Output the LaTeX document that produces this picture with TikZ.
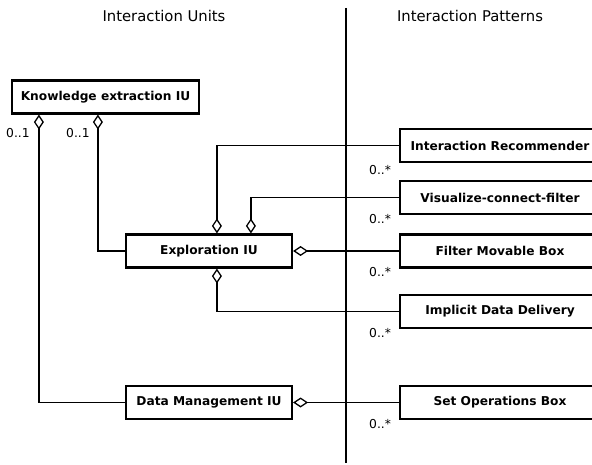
\documentclass[tikz,border=0pt]{standalone}
\usepackage{fontspec}
\setmainfont{DejaVu Sans}
\usetikzlibrary{arrows.meta,calc}
\tikzset{
  unitbox/.style={draw, line width=2.2pt, fill=white, minimum height=33pt,
    inner sep=0pt, font=\bfseries\fontsize{12.2}{14}\selectfont},
  title/.style={font=\fontsize{14.8}{17}\selectfont},
  mult/.style={font=\fontsize{12.3}{14}\selectfont, inner sep=0pt},
  link/.style={line width=1.3pt},
  agg/.style={link, {Diamond[open, length=15pt, width=10pt, line width=1.3pt]}-}
}
\begin{document}
\begin{tikzpicture}[x=1pt, y=-1pt]
\useasboundingbox (0,0) rectangle (592,465);

% column headings and divider
\node[title] (tu) at (164,16) {Interaction Units};
\node[title] (tp) at (470,16) {Interaction Patterns};
\coordinate (dtop) at (346,8);
\coordinate (dbot) at (346,463);
\draw[line width=1.1pt] (dtop) -- (dbot);

% interaction units
\node[unitbox, minimum width=187pt] (ke) at (105.5,97) {Knowledge extraction IU};
\node[unitbox, minimum width=166pt] (ex) at (209,251) {Exploration IU};
\node[unitbox, minimum width=166pt] (dm) at (209,402.5) {Data Management IU};

% interaction patterns (boxes run past the right border)
\node[unitbox, minimum width=200pt] (ir)  at (500,145.5) {Interaction Recommender};
\node[unitbox, minimum width=200pt] (vcf) at (500,197.5) {Visualize-connect-filter};
\node[unitbox, minimum width=200pt] (fmb) at (500,251) {Filter Movable Box};
\node[unitbox, minimum width=200pt] (idd) at (500,311.5) {Implicit Data Delivery};
\node[unitbox, minimum width=200pt] (sob) at (500,402.5) {Set Operations Box};

% aggregation connectors
\draw[agg] ($(ke.south west)+(28,0)$) |- (dm.west);
\draw[agg] ($(ke.south west)+(87,0)$) |- (ex.west);
\draw[agg] ($(ex.north west)+(92,0)$) |- (ir.west);
\draw[agg] ($(ex.north west)+(126,0)$) |- (vcf.west);
\draw[agg] (ex.east) -- (fmb.west);
\draw[agg] ($(ex.south west)+(92,0)$) |- (idd.west);
\draw[agg] (dm.east) -- (sob.west);

% multiplicities
\node[mult, anchor=west] (m1) at (6,133) {0..1};
\node[mult, anchor=west] (m2) at (66,133) {0..1};
\node[mult, anchor=west] (m3) at (369,170) {0..*};
\node[mult, anchor=west] (m4) at (369,219) {0..*};
\node[mult, anchor=west] (m5) at (369,272) {0..*};
\node[mult, anchor=west] (m6) at (369,333) {0..*};
\node[mult, anchor=west] (m7) at (369,424) {0..*};
\end{tikzpicture}
\end{document}
